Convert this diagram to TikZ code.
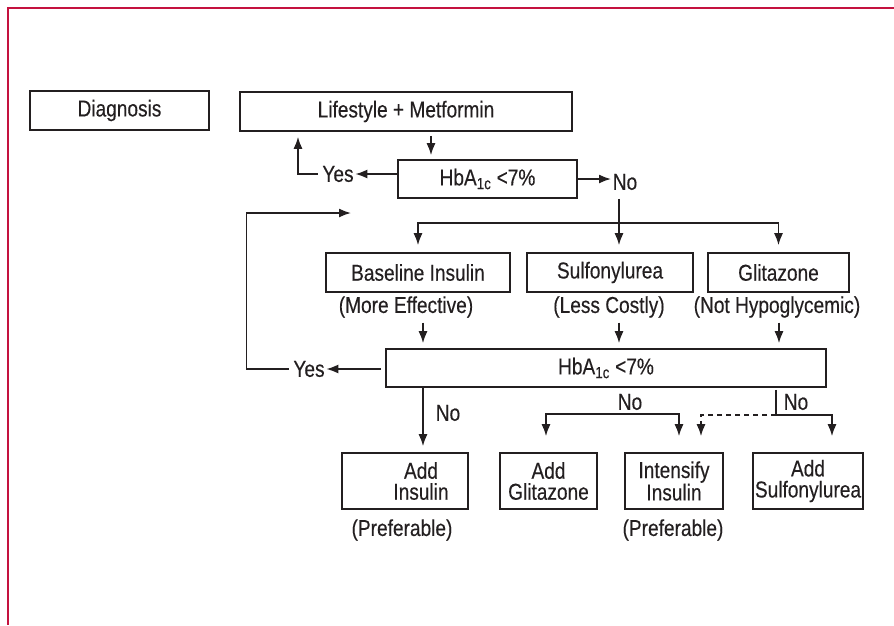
\documentclass[tikz,border=0pt]{standalone}
\usepackage{amsmath}
\usepackage{fontspec}
\setmainfont[FakeStretch=0.83, FakeBold=0.3]{Liberation Sans}
\usepackage{tikz}
\usetikzlibrary{arrows.meta}
\definecolor{ink}{HTML}{231F20}
\definecolor{frame}{HTML}{C4123F}

\begin{document}
\begin{tikzpicture}[x=1pt, y=-1pt, color=ink, line width=1.6pt,
				>={Latex[length=12pt,width=9pt]},
				box/.style={rectangle, draw, inner sep=0pt, align=center,
				font=\fontsize{23}{21}\selectfont},
				lbl/.style={inner sep=1pt, font=\fontsize{23}{21}\selectfont}]
				\useasboundingbox (0,0) rectangle (894,625);
				\draw[frame, line width=2pt] (894,8) -- (8,8) -- (8,625);
				% boxes
				\node[box,
				minimum width = 179pt,
				minimum height = 39pt] (1) at(119.5,110.5){Diagnosis};
				\node[box,
				minimum width = 332pt,
				minimum height = 39pt] (2) at(406,111.5){Lifestyle + Metformin};
				\node[box,
				minimum width = 179pt,
				minimum height = 38pt] (3) at(487.5,179){HbA\textsubscript{1c} <7\%};
				\node[box,
				minimum width = 184pt,
				minimum height = 39pt] (4) at(418,272.5){Baseline Insulin};
				\node[box,
				minimum width = 166pt,
				minimum height = 39pt] (5) at(610,272.5){Sulfonylurea};
				\node[box,
				minimum width = 141pt,
				minimum height = 39pt] (6) at(778.5,272.5){Glitazone};
				\node[box,
				minimum width = 440pt,
				minimum height = 38pt] (7) at(606,368){HbA\textsubscript{1c} <7\%};
				\node[box,
				minimum width = 126pt,
				minimum height = 56pt] (8) at(405,481){\hspace*{32pt}Add\\\hspace*{32pt}Insulin};
				\node[box,
				minimum width = 97pt,
				minimum height = 56pt] (9) at(548.5,481){Add\\Glitazone};
				\node[box,
				minimum width = 98pt,
				minimum height = 56pt] (10) at(674,481){Intensify\\Insulin};
				\node[box,
				minimum width = 110pt,
				minimum height = 56pt] (11) at(808,481){Add\\Sulfonylurea};
				% labels
				\node[lbl] (yes1) at(338,174){Yes};
				\node[lbl] (no1) at(625,182){No};
				\node[lbl] (e1) at(406,307){(More Effective)};
				\node[lbl] (e2) at(609,307){(Less Costly)};
				\node[lbl] (e3) at(777,307){(Not Hypoglycemic)};
				\node[lbl] (yes2) at(309,369){Yes};
				\node[lbl] (no2) at(448,413){No};
				\node[lbl] (no3) at(630,402){No};
				\node[lbl] (no4) at(796,402){No};
				\node[lbl] (p1) at(402,530){(Preferable)};
				\node[lbl] (p2) at(673,530){(Preferable)};
				\coordinate (b1) at(619,223);
				\coordinate (b2) at(612,414);
				\coordinate (r) at(351,213);
				% arrows
				\draw[->, shorten <=4pt, shorten >=4pt] ([xshift=25pt]2.south) -- ([xshift=25pt]2.south |- 3.north);
				\draw[->] (3.west |- yes1) -- (yes1.east);
				\draw[->, shorten <=3pt, shorten >=5pt] (yes1.west) -| ([xshift=-108pt]2.south);
				\draw[->] (3.east) -- (no1.west |- 3.east);
				\draw[->, shorten <=7pt] ([xshift=-6pt]no1.south) -- ([xshift=9pt,yshift=7pt]5.north);
				\draw[->] (b1) -| ([yshift=7pt]4.north);
				\draw[->] (b1) -| ([yshift=7pt]6.north);
				\draw[->, shorten <=3pt, shorten >=5pt] ([xshift=17pt]e1.south) -- ([xshift=17pt]e1.south |- 7.north);
				\draw[->, shorten <=3pt, shorten >=5pt] ([xshift=10pt]e2.south) -- ([xshift=10pt]e2.south |- 7.north);
				\draw[->, shorten <=3pt, shorten >=5pt] ([xshift=2pt]e3.south) -- ([xshift=2pt]e3.south |- 7.north);
				\draw[->, shorten <=4pt] (7.west |- yes2) -- (yes2.east);
				\draw[->, shorten <=3pt] (yes2.west) -- ++(-45,0) |- (r);
				\draw[->] ([xshift=-183pt]7.south) -- ([xshift=18pt,yshift=6pt]8.north);
				\draw[->] (b2) -| ([xshift=-2.5pt,yshift=16pt]9.north);
				\draw[->] (b2) -| ([xshift=5pt,yshift=16pt]10.north);
				\draw ([xshift=170pt,yshift=-2pt]7.south) -- ++(0,25) coordinate (b3);
				\draw[->] (b3) -| ([xshift=24pt,yshift=16pt]11.north);
				\draw[->, dash pattern=on 5pt off 4pt] (b3) -| ([xshift=27pt,yshift=16pt]10.north);
			\end{tikzpicture}
\end{document}
